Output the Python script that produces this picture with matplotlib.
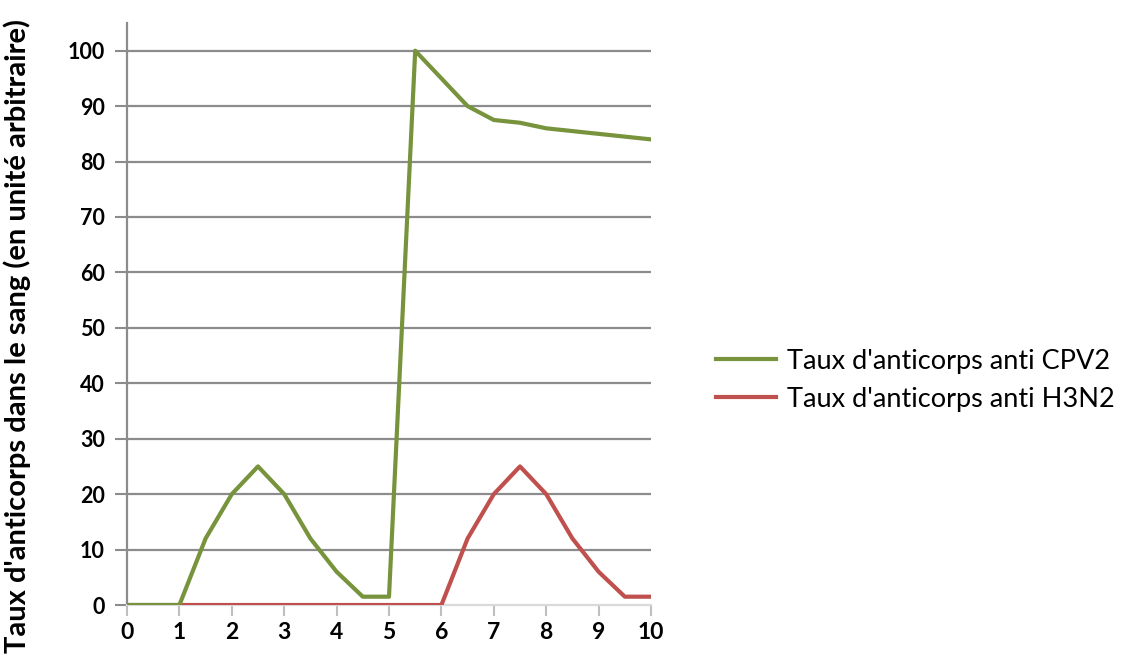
import matplotlib
matplotlib.use('Agg')
import matplotlib.pyplot as plt

# temps (demi-unités) et taux d'anticorps
temps = [0, 0.5, 1, 1.5, 2, 2.5, 3, 3.5, 4, 4.5, 5, 5.5, 6, 6.5, 7, 7.5, 8, 8.5, 9, 9.5, 10]
cpv2 = [0, 0, 0, 12, 20, 25, 20, 12, 6, 1.5, 1.5, 100, 95, 90, 87.5, 87, 86, 85.5, 85, 84.5, 84]
h3n2 = [0, 0, 0, 0, 0, 0, 0, 0, 0, 0, 0, 0, 0, 12, 20, 25, 20, 12, 6, 1.5, 1.5]
x_ticks = list(range(0, 11))
y_ticks = list(range(0, 101, 10))

label_cpv2 = "Taux d'anticorps anti CPV2"
label_h3n2 = "Taux d'anticorps anti H3N2"
ylabel = "Taux d'anticorps dans le sang (en unité arbitraire)"

plt.rcParams['font.family'] = ['Lato', 'DejaVu Sans']

fig = plt.figure(figsize=(11.31, 6.64), dpi=100)
ax = fig.add_axes([127 / 1131, 59 / 664, 524 / 1131, 582 / 664])

for y in y_ticks[1:]:
    ax.axhline(y, color='#8c8c8c', lw=1.6, zorder=1)

ax.plot(temps, h3n2, color='#C0504D', lw=3, label=label_h3n2, zorder=3)
ax.plot(temps, cpv2, color='#77933C', lw=3, label=label_cpv2, zorder=4)

ax.set_xlim(0, 10)
ax.set_ylim(0, 105)
ax.set_xticks(x_ticks)
ax.set_yticks(y_ticks)
ax.tick_params(axis='y', length=9, width=1.5, color='#8c8c8c', labelsize=15.5, pad=7)
ax.tick_params(axis='x', length=8, width=1.5, color='#bfbfbf', labelsize=16.5, pad=4)
for t in ax.get_xticklabels() + ax.get_yticklabels():
    t.set_fontweight('bold')

for s in ['top', 'right']:
    ax.spines[s].set_visible(False)
ax.spines['left'].set_color('#8c8c8c')
ax.spines['left'].set_linewidth(1.6)
ax.spines['bottom'].set_color('#d9d9d9')
ax.spines['bottom'].set_linewidth(1.6)

handles, labels = ax.get_legend_handles_labels()
fig.legend(handles[::-1], labels[::-1], loc='center left',
           bbox_to_anchor=(692 / 1131, 1 - 380 / 664), frameon=False,
           fontsize=19.5, handlelength=2.2, handletextpad=0.4, labelspacing=0.48)

fig.text(17 / 1131, 1 - 336 / 664, ylabel, rotation=90, ha='center', va='center',
         fontsize=21, fontweight='bold')

fig.savefig('out.png', dpi=100)
